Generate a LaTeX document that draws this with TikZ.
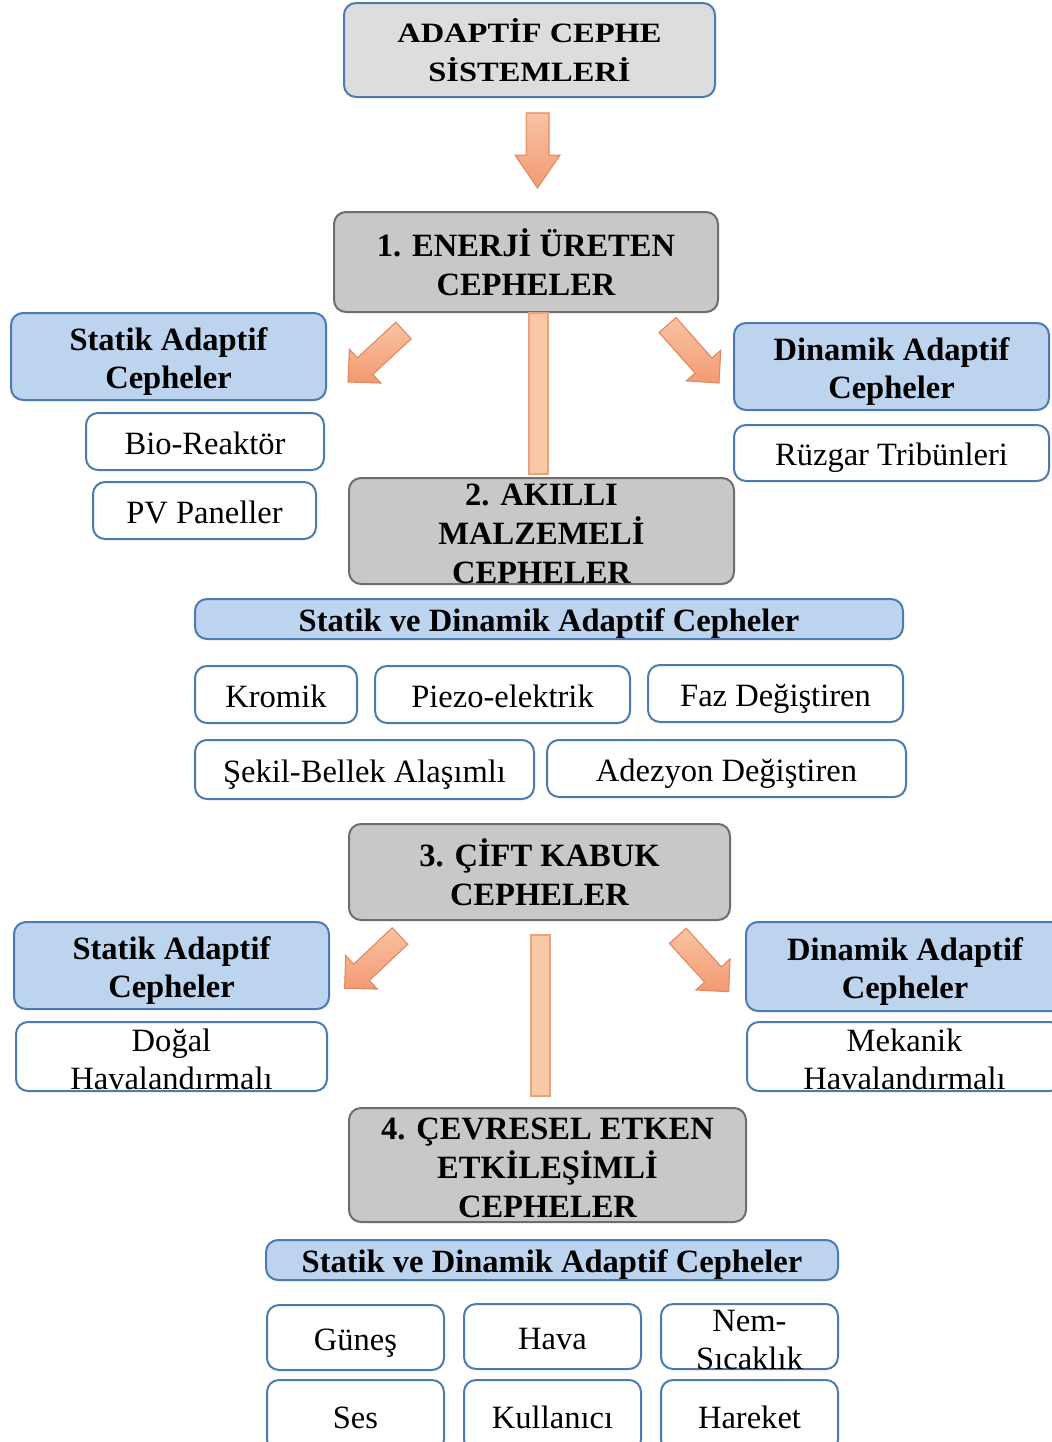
\documentclass[tikz,border=0pt]{standalone}
\usepackage{fontspec}
\setmainfont{Liberation Serif}
\usetikzlibrary{calc}

\definecolor{blueline}{HTML}{4C7BB4}
\definecolor{lightblue}{HTML}{BDD4EE}
\definecolor{titlegray}{HTML}{DDDDDD}
\definecolor{boxgray}{HTML}{C8C8C8}
\definecolor{grayline}{HTML}{6E6E6E}
\definecolor{arrowlight}{HTML}{F9C3A3}
\definecolor{arrowdark}{HTML}{F29A72}
\definecolor{arrowline}{HTML}{E2875F}
\definecolor{barfill}{HTML}{F9C8A6}
\definecolor{barline}{HTML}{E9A47E}

\tikzset{
  box/.style={rounded corners=9pt, line width=1.5pt, inner sep=0pt},
  titlebox/.style={box, draw=blueline, fill=titlegray},
  graybox/.style={box, draw=grayline, fill=boxgray},
  bluebox/.style={box, draw=blueline, fill=lightblue},
  whitebox/.style={box, draw=blueline, fill=white},
  titletext/.style={inner sep=0pt, align=center,
    font=\fontsize{21}{28.8}\selectfont\bfseries\addfontfeatures{FakeStretch=1.16}},
  boldtext/.style={inner sep=0pt, align=center, font=\fontsize{24.4}{29.5}\selectfont\bfseries},
  boldthree/.style={boldtext, yshift=-2.25pt},
  bluetext/.style={inner sep=0pt, align=center, yshift=-3.75pt,
    font=\fontsize{24.4}{29}\selectfont\bfseries},
  blueone/.style={inner sep=0pt, text height=20pt, text depth=1.2pt,
    font=\fontsize{24.4}{29}\selectfont\bfseries},
  plaintext/.style={inner sep=0pt, align=center, yshift=-2.25pt,
    font=\fontsize{24.4}{28.5}\selectfont},
  plainone/.style={inner sep=0pt, text height=20pt, text depth=1.2pt,
    font=\fontsize{24.4}{28.5}\selectfont},
  blockarrow/.style={draw=arrowline, line width=0.8pt, top color=arrowlight, bottom color=arrowdark},
  bar/.style={draw=barline, line width=0.8pt, fill=barfill},
}

% box from (x1,y1) to (x2,y2) with its label drawn on top
% #1 box style, #2 name, #3-#6 corners, #7 text, #8 text style
\newcommand\panel[8]{%
  \node[#1, minimum width={(#5-#3)*0.75pt}, minimum height={(#6-#4)*0.75pt}]
    (#2) at ({(#3+#5)/2},{(#4+#6)/2}) {};
  \node[#8] (#2-txt) at (#2.center) {#7};}

% block arrow from coordinate #1 (tail) to #2 (tip);
% #3 shaft half width, #4 head half width, #5 head length
\newcommand\fatarrow[5]{%
  \coordinate (#2-base) at ($(#2)!#5!(#1)$);
  \path[blockarrow] ($(#1)!#3!90:(#2)$) -- ($(#2-base)!#3!90:(#2)$)
    -- ($(#2-base)!#4!90:(#2)$) -- (#2) -- ($(#2-base)!#4!-90:(#2)$)
    -- ($(#2-base)!#3!-90:(#2)$) -- ($(#1)!#3!-90:(#2)$) -- cycle;}

\begin{document}
\begin{tikzpicture}[x=0.75pt, y=-0.75pt]
\useasboundingbox (0,0) rectangle (1052,1442);
\clip (0,0) rectangle (1052,1442);

% header
\panel{titlebox}{title}{344}{3}{715}{97}{ADAPTİF CEPHE\\SİSTEMLERİ}{titletext}

% group 1
\panel{graybox}{g1}{334}{212}{718}{312}{1. ENERJİ ÜRETEN\\CEPHELER}{boldtext}
\panel{bluebox}{sa1}{11}{313}{326}{400}{Statik Adaptif\\Cepheler}{bluetext}
\panel{whitebox}{bio}{86}{413}{324}{470}{Bio-Reaktör}{plainone}
\panel{whitebox}{pv}{93}{482}{316}{539}{PV Paneller}{plainone}
\panel{bluebox}{da1}{734}{323}{1049}{410}{Dinamik Adaptif\\Cepheler}{bluetext}
\panel{whitebox}{rt}{734}{425}{1049}{481}{Rüzgar Tribünleri}{plainone}

% group 2
\panel{graybox}{g2}{349}{478}{734}{584}{2. AKILLI\\MALZEMELİ\\CEPHELER}{boldthree}
\panel{bluebox}{sd1}{195}{599}{903}{639}{Statik ve Dinamik Adaptif Cepheler}{blueone}
\panel{whitebox}{kr}{195}{666}{357}{723}{Kromik}{plainone}
\panel{whitebox}{pz}{375}{666}{630}{723}{Piezo-elektrik}{plainone}
\panel{whitebox}{fz}{648}{665}{903}{722}{Faz Değiştiren}{plainone}
\panel{whitebox}{sk}{195}{740}{534}{799}{Şekil-Bellek Alaşımlı}{plainone}
\panel{whitebox}{ad}{547}{740}{906}{797}{Adezyon Değiştiren}{plainone}

% group 3
\panel{graybox}{g3}{349}{824}{730}{920}{3. ÇİFT KABUK\\CEPHELER}{boldtext}
\panel{bluebox}{sa2}{14}{922}{329}{1009}{Statik Adaptif\\Cepheler}{bluetext}
\panel{whitebox}{dh}{16}{1022}{327}{1091}{Doğal\\Havalandırmalı}{plaintext}
\panel{bluebox}{da2}{746}{922}{1064}{1011}{Dinamik Adaptif\\Cepheler}{bluetext}
\panel{whitebox}{mh}{747}{1022}{1062}{1091}{Mekanik\\Havalandırmalı}{plaintext}

% group 4
\panel{graybox}{g4}{349}{1108}{746}{1222}{4. ÇEVRESEL ETKEN\\ETKİLEŞİMLİ\\CEPHELER}{boldthree}
\panel{bluebox}{sd2}{266}{1240}{838}{1280}{Statik ve Dinamik Adaptif Cepheler}{blueone}
\panel{whitebox}{gn}{267}{1305}{444}{1370}{Güneş}{plainone}
\panel{whitebox}{hv}{464}{1304}{641}{1369}{Hava}{plainone}
\panel{whitebox}{ns}{661}{1304}{838}{1369}{Nem-\\Sıcaklık}{plaintext}
\panel{whitebox}{ses}{267}{1380}{444}{1452}{Ses}{plainone}
\panel{whitebox}{ku}{464}{1380}{641}{1452}{Kullanıcı}{plainone}
\panel{whitebox}{hr}{661}{1380}{838}{1452}{Hareket}{plainone}

% block arrows
\coordinate (a0-tail) at (537.5,113);   \coordinate (a0-tip) at (537.5,188);
\coordinate (a1-tail) at (403.5,330.5); \coordinate (a1-tip) at (348,382);
\coordinate (a2-tail) at (667.5,325);   \coordinate (a2-tip) at (719,383);
\coordinate (a3-tail) at (400,936);     \coordinate (a3-tip) at (344.6,988.3);
\coordinate (a4-tail) at (677.8,935.8); \coordinate (a4-tip) at (728.7,991.7);
\fatarrow{a0-tail}{a0-tip}{8.6pt}{16.9pt}{24.7pt}
\fatarrow{a1-tail}{a1-tip}{8.5pt}{17.3pt}{17.5pt}
\fatarrow{a2-tail}{a2-tip}{8.5pt}{17.3pt}{17.5pt}
\fatarrow{a3-tail}{a3-tip}{8.5pt}{17.3pt}{17.5pt}
\fatarrow{a4-tail}{a4-tip}{8.5pt}{17.3pt}{17.5pt}

% connecting bars between the main groups
\draw[bar] ($(g1.south)+(3,0)$) rectangle ($(g2.north)+(6.5,-3)$);
\draw[bar] ($(g3.south)+(-8.5,14)$) rectangle ($(g4.north)+(2.5,-11)$);
\end{tikzpicture}
\end{document}
